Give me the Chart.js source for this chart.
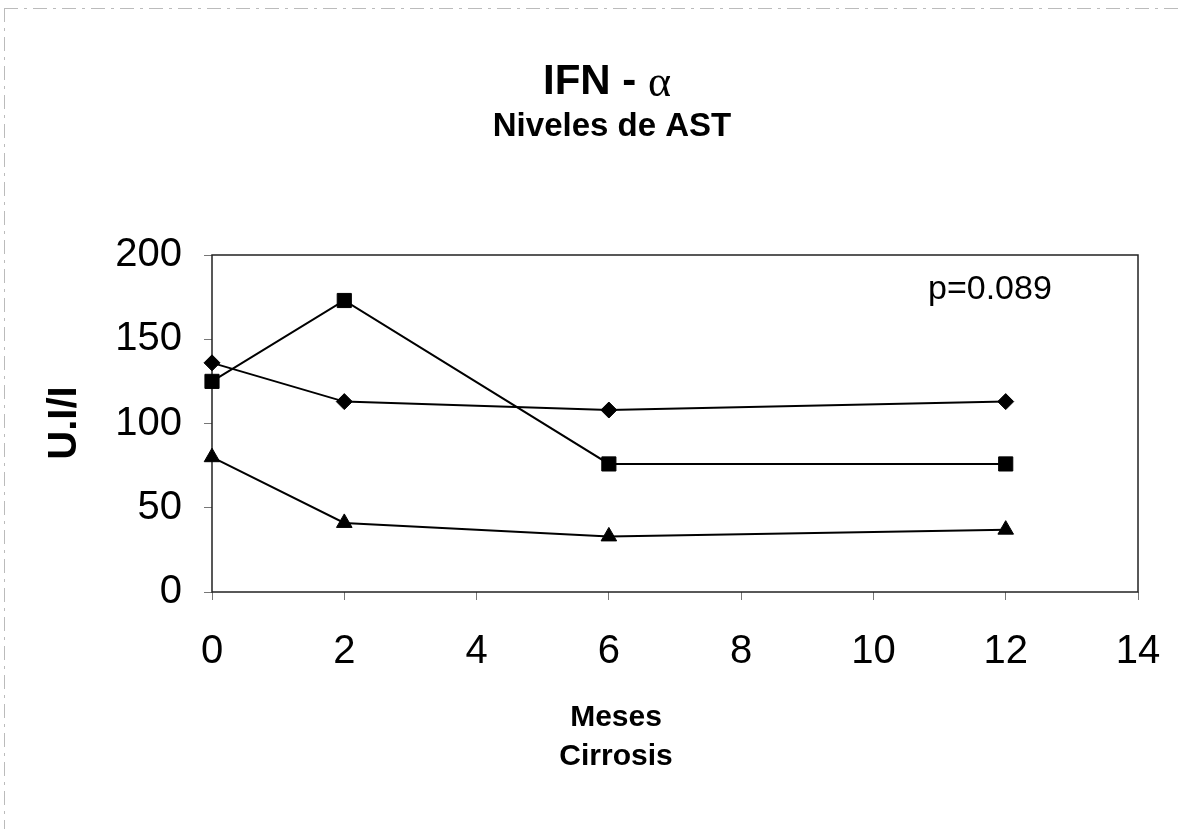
<!DOCTYPE html>
<html>
<head>
<meta charset="utf-8">
<script src="https://cdn.jsdelivr.net/npm/chart.js@4.4.1/dist/chart.umd.min.js"></script>
<style>
  html, body { margin: 0; padding: 0; background: #fff; }
  canvas { display: block; }
</style>
</head>
<body>
<canvas id="astChart" width="1183" height="829"></canvas>
<script>
// IFN-alpha, AST levels in cirrhosis patients

const months = [0, 2, 6, 12];
const diamondSeries = [136, 113, 108, 113];
const squareSeries = [125, 173, 76, 76];
const triangleSeries = [80, 41, 33, 37];

const xTicks = [0, 2, 4, 6, 8, 10, 12, 14];
const yTicks = [0, 50, 100, 150, 200];

const FONT = "'Liberation Sans', Arial, sans-serif";

function toPoints(values) {
  return months.map((m, i) => ({ x: m, y: values[i] }));
}

function series(values, style, radius) {
  return {
    data: toPoints(values),
    borderColor: '#000',
    backgroundColor: '#000',
    borderWidth: 2,
    pointStyle: style,
    pointRadius: radius,
    pointBorderWidth: 1,
    pointBackgroundColor: '#000',
    pointBorderColor: '#000',
    tension: 0,
    clip: false,
  };
}

const textPlugin = {
  id: 'texts',
  beforeDraw(chart) {
    const ctx = chart.ctx;
    ctx.save();
    // faint scan frame
    ctx.strokeStyle = '#bbb';
    ctx.lineWidth = 1;
    ctx.setLineDash([14, 6, 3, 6]);
    ctx.beginPath();
    ctx.moveTo(4, 8.5); ctx.lineTo(1183, 8.5);
    ctx.moveTo(4.5, 8); ctx.lineTo(4.5, 829);
    ctx.stroke();
    ctx.restore();
  },
  beforeDatasetsDraw(chart) {
    const ctx = chart.ctx;
    const area = chart.chartArea;
    ctx.save();
    // plot box
    ctx.strokeStyle = '#222';
    ctx.lineWidth = 1.5;
    ctx.strokeRect(area.left, area.top, area.right - area.left, area.bottom - area.top);
    ctx.restore();
  },
  afterDraw(chart) {
    const ctx = chart.ctx;
    ctx.save();
    ctx.fillStyle = '#000';
    ctx.textBaseline = 'middle';

    // title line 1: "IFN - " + alpha
    const part1 = 'IFN - ';
    const part2 = '\u03b1';
    const boldFont = "bold 42px " + FONT;
    const alphaFont = "44px 'Liberation Serif', 'DejaVu Serif', serif";
    ctx.font = boldFont;
    const w1 = ctx.measureText(part1).width;
    ctx.font = alphaFont;
    const w2 = ctx.measureText(part2).width;
    const x = 607 - (w1 + w2) / 2;
    ctx.textAlign = 'left';
    ctx.font = boldFont;
    ctx.fillText(part1, x, 82);
    ctx.font = alphaFont;
    ctx.fillText(part2, x + w1, 84);

    // title line 2
    ctx.textAlign = 'center';
    ctx.font = "bold 33px " + FONT;
    ctx.fillText('Niveles de AST', 612, 127);

    // x axis title
    ctx.font = "bold 30px " + FONT;
    ctx.fillText('Meses', 616, 718);
    ctx.fillText('Cirrosis', 616, 757);

    // p value
    ctx.textAlign = 'left';
    ctx.font = "34px " + FONT;
    ctx.fillText('p=0.089', 928, 290);

    // y axis title
    ctx.translate(65, 423);
    ctx.rotate(-Math.PI / 2);
    ctx.textAlign = 'center';
    ctx.font = "bold 40px " + FONT;
    ctx.fillText('U.I/I', 0, 0);

    ctx.restore();
  }
};

new Chart(document.getElementById('astChart'), {
  type: 'line',
  data: {
    datasets: [
      series(diamondSeries, 'rectRot', 8),
      series(squareSeries, 'rect', 10),
      series(triangleSeries, 'triangle', 9),
    ]
  },
  options: {
    responsive: false,
    animation: false,
    layout: { padding: { top: 255, right: 45, bottom: 0, left: 0 } },
    plugins: {
      legend: { display: false },
      tooltip: { enabled: false },
      title: { display: false },
    },
    scales: {
      x: {
        type: 'linear',
        min: 0,
        max: 14,
        afterBuildTicks(scale) { scale.ticks = xTicks.map(v => ({ value: v })); },
        afterFit(scale) {
          scale.height = 237;
          scale.paddingLeft = 0;
          scale.paddingRight = 0;
        },
        border: { display: false },
        grid: { drawOnChartArea: false, drawTicks: true, tickLength: 8, color: '#777', lineWidth: 1 },
        ticks: { color: '#000', font: { family: FONT, size: 40 }, padding: 28, maxRotation: 0 },
      },
      y: {
        type: 'linear',
        min: 0,
        max: 200,
        afterBuildTicks(scale) { scale.ticks = yTicks.map(v => ({ value: v })); },
        afterFit(scale) { scale.width = 212; },
        border: { display: false },
        grid: { drawOnChartArea: false, drawTicks: true, tickLength: 8, color: '#777', lineWidth: 1 },
        ticks: { color: '#000', font: { family: FONT, size: 40 }, padding: 22 },
      }
    }
  },
  plugins: [textPlugin]
});
</script>
</body>
</html>
